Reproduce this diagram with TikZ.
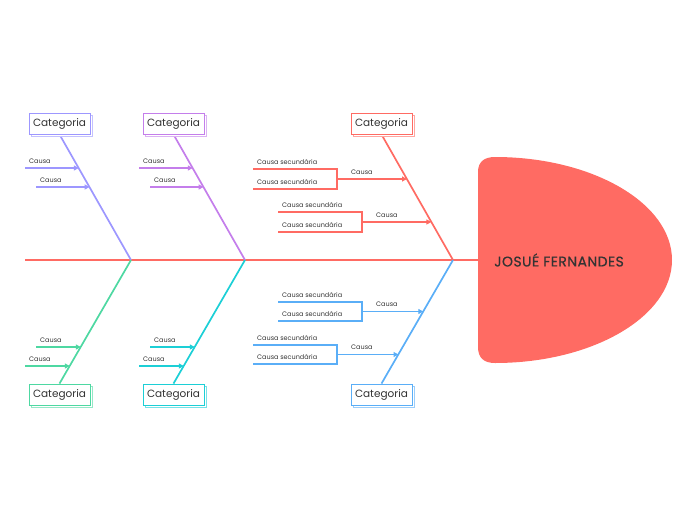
\documentclass[tikz,border=0pt]{standalone}
\usepackage{fontspec}
\setmainfont{Poppins}
\newfontfamily\titre[LetterSpace=3,FakeBold=0.6]{Poppins}
\usetikzlibrary{arrows.meta,positioning,shadows,backgrounds}
\definecolor{rouge}{HTML}{FF6B63}
\definecolor{lavande}{HTML}{9D97FF}
\definecolor{violet}{HTML}{C47EEB}
\definecolor{vert}{HTML}{4ED8A2}
\definecolor{turquoise}{HTML}{1CCFD6}
\definecolor{bleu}{HTML}{5AAEF7}
\definecolor{texte}{HTML}{333333}
\tikzset{
  categ/.style={rectangle, draw=#1, line width=0.9pt, fill=white, text=texte,
                font=\fontsize{10.5}{12}\selectfont, minimum width=61pt, minimum height=21pt,
                inner sep=1pt, copy shadow={shadow xshift=2.5pt, shadow yshift=-2.5pt,
                draw=#1!60, fill=white}},
  os/.style={draw=#1, line width=1.7pt},
  trait/.style={draw=#1, line width=1.1pt},
  fleche/.style={-{Triangle[length=5pt,width=5pt]}, draw=#1, line width=1.1pt},
  lbl/.style={font=\fontsize{6.5}{8}\selectfont, text=texte, inner sep=0pt},
}

\begin{document}
\begin{tikzpicture}[x=1pt, y=-1pt]
  \useasboundingbox (0,0) rectangle (697,520);
  % tete du poisson
  \fill[rouge] (478,347) -- (478,172) .. controls (478,162) and (484,157) .. (495,157)
    .. controls (592,157) and (672,203) .. (672,260)
    .. controls (672,317) and (592,363) .. (495,363)
    .. controls (484,363) and (478,358) .. (478,347) -- cycle;
  \node[font=\titre\fontsize{14}{16}\selectfont, text=texte] (tete) at (559,260) {JOSUÉ FERNANDES};

  % categories
  \node[categ=lavande] (c1) at (59.5,123.5) {Categoria};
  \node[categ=violet] (c2) at (173.5,123.5) {Categoria};
  \node[categ=rouge] (c3) at (381.5,123.5) {Categoria};
  \node[categ=vert] (c4) at (59.5,394.5) {Categoria};
  \node[categ=turquoise] (c5) at (173.5,394.5) {Categoria};
  \node[categ=bleu] (c6) at (381.5,394.5) {Categoria};

  \coordinate (queue) at (25,260);
  \coordinate (j1) at (131,260);
  \coordinate (j2) at (245,260);
  \coordinate (j3) at (453,260);
  \begin{scope}[on background layer]
    \draw[os=rouge, line width=2.6pt] (queue) -- (tete);
    \draw[os=lavande] (c1.south) -- (j1);
    \draw[os=violet] (c2.south) -- (j2);
    \draw[os=rouge] (c3.south) -- (j3);
    \draw[os=vert] (c4.north) -- (j1);
    \draw[os=turquoise] (c5.north) -- (j2);
    \draw[os=bleu] (c6.north) -- (j3);
  \end{scope}

  % causes simples
  \coordinate (a11) at (25,168);  \coordinate (e11) at (78.8,168);
  \coordinate (a12) at (36,187);  \coordinate (e12) at (89.6,187);
  \coordinate (a21) at (139,168); \coordinate (e21) at (192.8,168);
  \coordinate (a22) at (150,187); \coordinate (e22) at (203.6,187);
  \coordinate (a41) at (36,347);  \coordinate (e41) at (80.8,347);
  \coordinate (a42) at (25,366);  \coordinate (e42) at (69.8,366);
  \coordinate (a51) at (150,347); \coordinate (e51) at (194.8,347);
  \coordinate (a52) at (139,366); \coordinate (e52) at (183.8,366);
  \draw[fleche=lavande] (a11) -- (e11); \draw[fleche=lavande] (a12) -- (e12);
  \draw[fleche=violet] (a21) -- (e21); \draw[fleche=violet] (a22) -- (e22);
  \draw[fleche=vert] (a41) -- (e41); \draw[fleche=vert] (a42) -- (e42);
  \draw[fleche=turquoise] (a51) -- (e51); \draw[fleche=turquoise] (a52) -- (e52);
  \node[lbl, above right=4.5pt and 4pt of a11] (t11) {Causa};
  \node[lbl, above right=4.5pt and 4pt of a12] (t12) {Causa};
  \node[lbl, above right=4.5pt and 4pt of a21] (t21) {Causa};
  \node[lbl, above right=4.5pt and 4pt of a22] (t22) {Causa};
  \node[lbl, above right=4.5pt and 4pt of a41] (t41) {Causa};
  \node[lbl, above right=4.5pt and 4pt of a42] (t42) {Causa};
  \node[lbl, above right=4.5pt and 4pt of a51] (t51) {Causa};
  \node[lbl, above right=4.5pt and 4pt of a52] (t52) {Causa};

  % causes avec causes secondaires
  \coordinate (u31) at (253,169); \coordinate (v31) at (253,189);
  \coordinate (k31) at (337,179); \coordinate (e31) at (407,179);
  \coordinate (u32) at (278,212); \coordinate (v32) at (278,232);
  \coordinate (k32) at (362,222); \coordinate (e32) at (431.4,222);
  \coordinate (u61) at (278,302); \coordinate (v61) at (278,321);
  \coordinate (k61) at (362,311.5); \coordinate (e61) at (423.3,311.5);
  \coordinate (u62) at (253,345); \coordinate (v62) at (253,364);
  \coordinate (k62) at (337,354.5); \coordinate (e62) at (398.5,354.5);
  \draw[trait=rouge] (u31) -| (k31) |- (v31); \draw[fleche=rouge] (k31) -- (e31);
  \draw[trait=rouge] (u32) -| (k32) |- (v32); \draw[fleche=rouge] (k32) -- (e32);
  \draw[trait=bleu] (u61) -| (k61) |- (v61); \draw[fleche=bleu] (k61) -- (e61);
  \draw[trait=bleu] (u62) -| (k62) |- (v62); \draw[fleche=bleu] (k62) -- (e62);
  \node[lbl, above right=4.5pt and 14pt of k31] (t31) {Causa};
  \node[lbl, above right=4.5pt and 4pt of u31] (s311) {Causa secundária};
  \node[lbl, above right=4.5pt and 4pt of v31] (s312) {Causa secundária};
  \node[lbl, above right=4.5pt and 14pt of k32] (t32) {Causa};
  \node[lbl, above right=4.5pt and 4pt of u32] (s321) {Causa secundária};
  \node[lbl, above right=4.5pt and 4pt of v32] (s322) {Causa secundária};
  \node[lbl, above right=4.5pt and 14pt of k61] (t61) {Causa};
  \node[lbl, above right=4.5pt and 4pt of u61] (s611) {Causa secundária};
  \node[lbl, above right=4.5pt and 4pt of v61] (s612) {Causa secundária};
  \node[lbl, above right=4.5pt and 14pt of k62] (t62) {Causa};
  \node[lbl, above right=4.5pt and 4pt of u62] (s621) {Causa secundária};
  \node[lbl, above right=4.5pt and 4pt of v62] (s622) {Causa secundária};
\end{tikzpicture}
\end{document}
